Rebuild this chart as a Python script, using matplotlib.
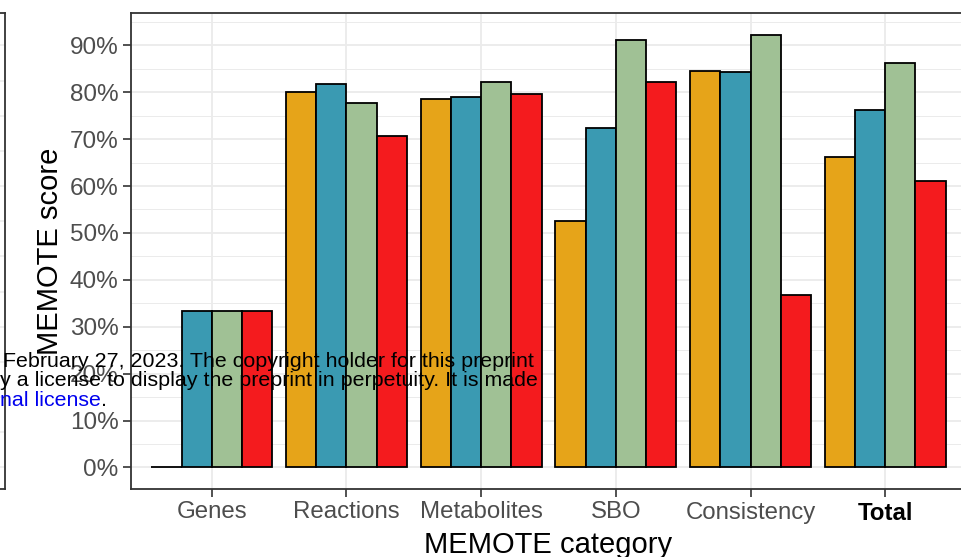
import numpy as np
import matplotlib.pyplot as plt
from matplotlib.ticker import MultipleLocator, FuncFormatter

plt.rcParams['font.family'] = ['Liberation Sans', 'DejaVu Sans']

# MEMOTE scores per category (fraction), one list per model
categories = ['Genes', 'Reactions', 'Metabolites', 'SBO', 'Consistency', 'Total']
model_a = [0.000, 0.800, 0.785, 0.526, 0.845, 0.662]
model_b = [0.333, 0.817, 0.790, 0.723, 0.844, 0.762]
model_c = [0.333, 0.777, 0.821, 0.911, 0.923, 0.862]
model_d = [0.333, 0.706, 0.796, 0.821, 0.368, 0.611]
series = [model_a, model_b, model_c, model_d]
colors = ['#E6A419', '#3A9AB2', '#A0C195', '#F41B1E']

W, H = 961, 557
fig = plt.figure(figsize=(W / 100, H / 100), dpi=100)

grid_col = '#EBEBEB'
frame_col = '#333333'

# neighbouring panel, only its right edge is visible
axl = fig.add_axes([-0.5, (H - 489) / H, 0.5 + 5 / W, (489 - 13) / H])
axl.set_ylim(-0.046, 0.969)
axl.yaxis.set_major_locator(MultipleLocator(0.075))
axl.grid(True, axis='y', color=grid_col, linewidth=1.1)
axl.set_xticks([])
axl.tick_params(left=False, labelleft=False)
for s in axl.spines.values():
    s.set_color(frame_col)
    s.set_linewidth(1.3)

ax = fig.add_axes([131 / W, (H - 489) / H, (966 - 131) / W, (489 - 13) / H])
x = np.arange(len(categories))
n = len(series)
bw = 0.9 / n
for i, (vals, col) in enumerate(zip(series, colors)):
    ax.bar(x + (i - (n - 1) / 2) * bw, vals, width=bw, color=col,
           edgecolor='black', linewidth=1.3, zorder=3)

ax.set_xlim(-0.6, len(categories) - 0.4)
ax.set_ylim(-0.046, 0.969)
ax.yaxis.set_major_locator(MultipleLocator(0.1))
ax.yaxis.set_minor_locator(MultipleLocator(0.05))
ax.yaxis.set_major_formatter(FuncFormatter(lambda v, p: f'{v * 100:.0f}%'))
ax.set_xticks(x)
ax.set_xticklabels(categories)

ax.grid(True, which='major', color=grid_col, linewidth=1.3, zorder=0)
ax.grid(True, which='minor', axis='y', color=grid_col, linewidth=0.7, zorder=0)
ax.set_axisbelow(True)
ax.tick_params(axis='both', which='major', length=6, width=1.2, color=frame_col,
               labelcolor='#4D4D4D', pad=3)
ax.tick_params(axis='x', labelsize=17.3)
ax.tick_params(axis='y', labelsize=17.5)
ax.tick_params(axis='y', which='minor', length=0)
ax.get_xticklabels()[-1].set_fontweight('bold')
ax.get_xticklabels()[-1].set_color('black')
for s in ax.spines.values():
    s.set_color(frame_col)
    s.set_linewidth(1.3)

ax.set_xlabel('MEMOTE category', fontsize=21, labelpad=5)
ax.set_ylabel('MEMOTE score', fontsize=21, labelpad=4)

# preprint watermark text overlaid on the figure
fs = 15.4
fig.text(3 / W, 1 - 367 / H, 'February 27, 2023. The copyright holder for this preprint',
         fontsize=fs, color='black', va='baseline')
fig.text(0 / W, 1 - 386 / H, 'y a license to display the preprint in perpetuity. It is made',
         fontsize=fs, color='black', va='baseline')
t = fig.text(0 / W, 1 - 406 / H, 'nal license', fontsize=fs, color='#0000EE', va='baseline')
fig.canvas.draw()
bb = t.get_window_extent()
fig.text(bb.x1 / W, 1 - 406 / H, '.', fontsize=fs, color='black', va='baseline')

fig.savefig('out.png', dpi=100)
